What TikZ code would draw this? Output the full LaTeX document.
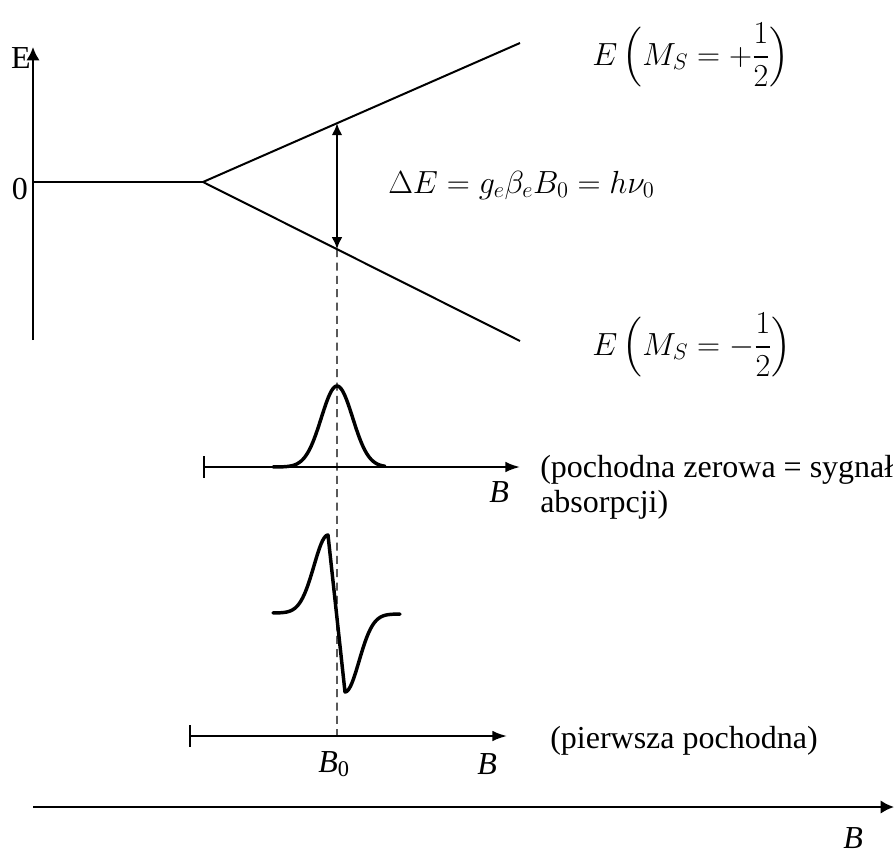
\documentclass[tikz,border=0pt]{standalone}
\usepackage{fix-cm}
\usepackage{amsmath}
\usepackage{fontspec}
\setmainfont{Liberation Serif}
\usetikzlibrary{arrows.meta,calc}

\begin{document}
\begin{tikzpicture}[x=0.75pt,y=-0.75pt,
  font=\fontsize{24}{26}\selectfont,
  axis/.style={line width=1.5pt,-{Latex[length=10pt,width=10pt]}},
  baraxis/.style={line width=1.5pt,{Bar[width=16pt]}-{Latex[length=11pt,width=8pt]}},
  level/.style={line width=1.5pt},
  gap/.style={line width=1.5pt,{Latex[length=9pt,width=8pt]}-{Latex[length=9pt,width=8pt]}},
  guide/.style={line width=1pt,dash pattern=on 6pt off 4pt},
  curve/.style={line width=2.6pt,line join=round,line cap=round},
  lab/.style={inner sep=0pt}]
  \useasboundingbox (0,0) rectangle (894,857);
  \coordinate (eLo) at (33,340);
  \coordinate (eHi) at (33,47);
  \coordinate (zero) at (33,182);
  \coordinate (split) at (203,182);
  \coordinate (upEnd) at (520,43);
  \coordinate (loEnd) at (520,341);
  \coordinate (gapTop) at ($(split)!0.4227!(upEnd)$);
  \coordinate (gapBot) at ($(split)!0.4227!(loEnd)$);
  \coordinate (absL) at (203,467);
  \coordinate (absR) at (520,467);
  \coordinate (derL) at (189,736);
  \coordinate (derR) at (507,736);
  \coordinate (bZero) at (337,736);
  \coordinate (fieldL) at (33,807);
  \coordinate (fieldR) at (894,807);
  \node[lab] (eLab) at (21,58) {E};
  \node[lab] (zeroLab) at (20,189) {0};
  \node[lab,anchor=base west] (gapLab) at (388,193)
    {$\Delta E=g_e\beta_eB_0=h\nu_0$};
  \node[lab,anchor=base west] (upLab) at (592,65)
    {$E\,\Bigl(M_S=+\dfrac{1}{2}\Bigr)$};
  \node[lab,anchor=base west] (loLab) at (592,355)
    {$E\,\Bigl(M_S=-\dfrac{1}{2}\Bigr)$};
  \node[lab,anchor=base west] (absB) at (489,502) {\textit{B}};
  \node[lab,anchor=north west,align=left] (absText) at (540,455)
    {(pochodna zerowa = sygnał\\absorpcji)};
  \node[lab,anchor=base west] (bZeroLab) at (318,772) {\textit{B}\textsubscript{0}};
  \node[lab,anchor=base west] (derB) at (477,774) {\textit{B}};
  \node[lab,anchor=base west] (derText) at (550,748) {(pierwsza pochodna)};
  \node[lab,anchor=base west] (fieldB) at (843,848) {\textit{B}};
  \draw[axis] (eLo) -- (eHi);
  \draw[level] (zero) -- (split);
  \draw[level] (split) -- (upEnd);
  \draw[level] (split) -- (loEnd);
  \draw[gap] (gapTop) -- (gapBot);
  \draw[guide] (gapBot) -- (bZero);
  \draw[baraxis] (absL) -- (absR);
  \draw[baraxis] (derL) -- (derR);
  \draw[axis] (fieldL) -- (fieldR);
  \draw[curve] plot[domain=273:385,samples=80] (\x,{467-81*exp(-(\x-337)*(\x-337)/493)});
  \draw[curve] plot[domain=273:328,samples=40] (\x,{613-78*exp(-(\x-328)*(\x-328)/392)})
    -- plot[domain=345:400,samples=40] (\x,{614+78*exp(-(\x-345)*(\x-345)/392)});
\end{tikzpicture}
\end{document}
